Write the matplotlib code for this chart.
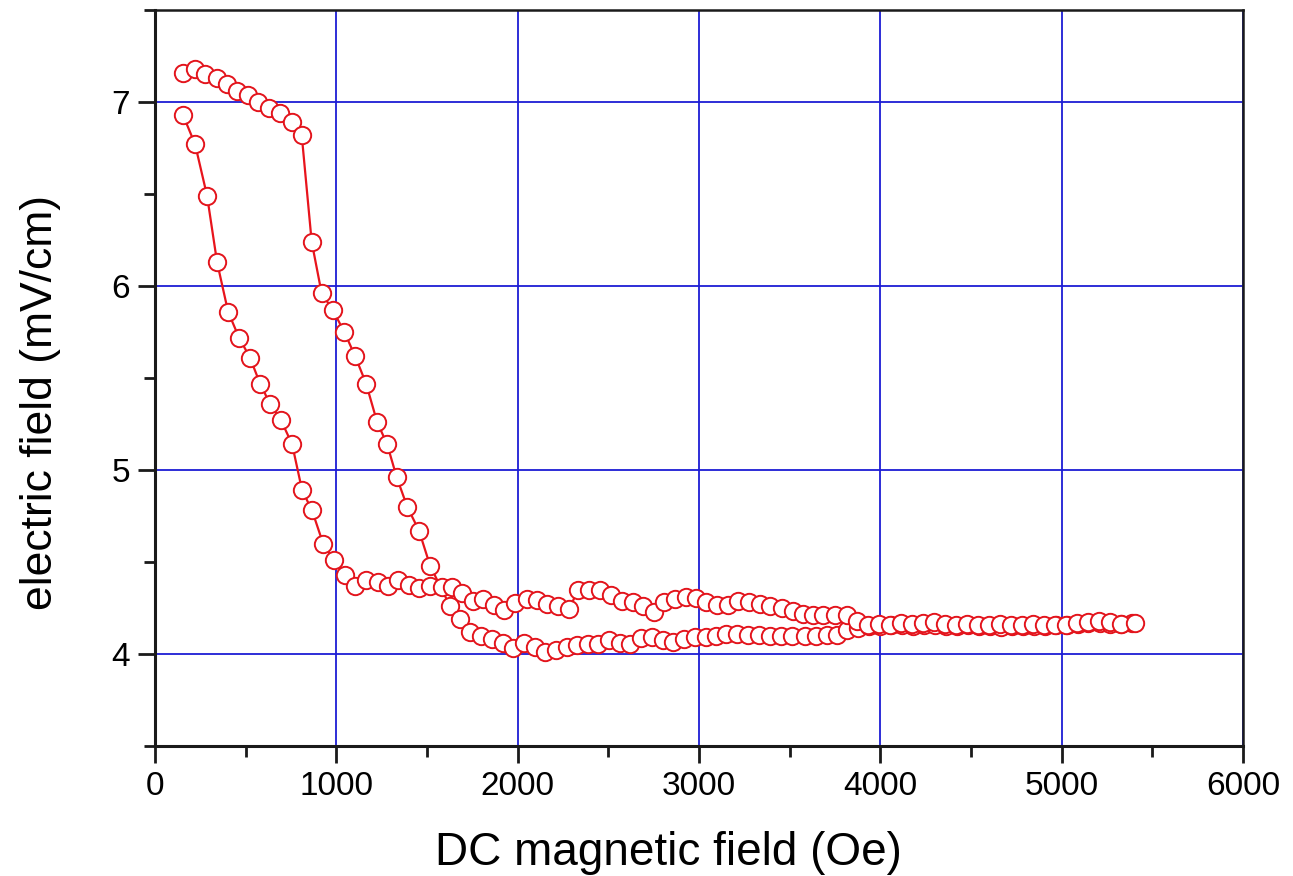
import matplotlib
matplotlib.use("Agg")
import matplotlib.pyplot as plt
from matplotlib import font_manager as fm
from matplotlib.ticker import MultipleLocator

# ---- data ----
# branch starting high (7.16) and ending in the lower band
xa = [156, 221, 276, 340, 399, 454, 515, 570, 631, 689, 754, 809,
      864, 919, 980, 1044, 1103, 1164, 1225, 1280, 1333, 1391, 1456, 1517,
      1627, 1682, 1737, 1798, 1859, 1920, 1975, 2035, 2096, 2151, 2212, 2272,
      2328, 2388, 2443, 2504, 2565, 2620, 2681, 2741, 2802, 2857, 2918, 2978,
      3039, 3094, 3149, 3210, 3271, 3331, 3392, 3453, 3513, 3585, 3646, 3706,
      3762, 3817, 3877, 3938, 3999, 4059, 4120, 4180, 4241, 4301, 4362, 4422,
      4483, 4543, 4604, 4664, 4725, 4785, 4846, 4906, 4967, 5027, 5088, 5148,
      5209, 5269, 5330, 5390]
ya = [7.16, 7.18, 7.15, 7.13, 7.10, 7.06, 7.04, 7.00, 6.97, 6.94, 6.89, 6.82,
      6.24, 5.96, 5.87, 5.75, 5.62, 5.47, 5.26, 5.14, 4.96, 4.80, 4.67, 4.48,
      4.26, 4.19, 4.12, 4.10, 4.08, 4.06, 4.03, 4.06, 4.04, 4.01, 4.02, 4.04,
      4.05, 4.055, 4.055, 4.075, 4.06, 4.055, 4.085, 4.09, 4.075, 4.065, 4.08, 4.09,
      4.09, 4.10, 4.11, 4.11, 4.105, 4.105, 4.10, 4.10, 4.10, 4.10, 4.10, 4.105,
      4.105, 4.13, 4.14, 4.15, 4.15, 4.16, 4.155, 4.15, 4.16, 4.155, 4.15, 4.15,
      4.155, 4.15, 4.15, 4.145, 4.15, 4.15, 4.15, 4.15, 4.155, 4.16, 4.165, 4.17,
      4.17, 4.165, 4.165, 4.17]

# branch starting at 6.93 and ending in the upper band
xb = [154, 221, 287, 342, 403, 463, 524, 579, 634, 695, 756, 811,
      866, 927, 987, 1048, 1103, 1166, 1232, 1287, 1342, 1403, 1458, 1517,
      1581, 1638, 1693, 1754, 1811, 1870, 1925, 1986, 2050, 2105, 2160, 2224,
      2283, 2335, 2395, 2455, 2513, 2574, 2635, 2693, 2752, 2807, 2865, 2926,
      2984, 3041, 3102, 3162, 3217, 3276, 3337, 3392, 3456, 3516, 3572, 3631,
      3686, 3751, 3815, 3870, 3934, 3995, 4055, 4116, 4176, 4237, 4297, 4358,
      4418, 4479, 4539, 4600, 4660, 4721, 4781, 4842, 4902, 4963, 5023, 5084,
      5144, 5205, 5265, 5326, 5405]
yb = [6.93, 6.77, 6.49, 6.13, 5.86, 5.72, 5.61, 5.47, 5.36, 5.27, 5.14, 4.89,
      4.78, 4.60, 4.51, 4.43, 4.37, 4.40, 4.39, 4.37, 4.40, 4.375, 4.36, 4.37,
      4.365, 4.365, 4.33, 4.29, 4.30, 4.265, 4.24, 4.275, 4.30, 4.295, 4.27, 4.26,
      4.245, 4.35, 4.35, 4.35, 4.32, 4.29, 4.28, 4.26, 4.23, 4.28, 4.30, 4.31,
      4.305, 4.285, 4.265, 4.265, 4.29, 4.28, 4.27, 4.26, 4.25, 4.235, 4.22, 4.21,
      4.21, 4.21, 4.21, 4.18, 4.16, 4.165, 4.16, 4.17, 4.165, 4.17, 4.175, 4.165,
      4.16, 4.165, 4.16, 4.16, 4.165, 4.16, 4.16, 4.165, 4.16, 4.16, 4.16, 4.17,
      4.175, 4.18, 4.175, 4.165, 4.17]

xticks = [0, 1000, 2000, 3000, 4000, 5000, 6000]
yticks = [4, 5, 6, 7]
xlabel = "DC magnetic field (Oe)"
ylabel = "electric field (mV/cm)"

# ---- font ----
names = {f.name for f in fm.fontManager.ttflist}
fam = "Liberation Sans Narrow" if "Liberation Sans Narrow" in names else "Liberation Sans"
plt.rcParams["font.family"] = [fam, "DejaVu Sans"]

fig = plt.figure(figsize=(12.93, 8.76), dpi=100)
ax = fig.add_axes([0.1199, 0.1484, 0.9613 - 0.1199, 0.9886 - 0.1484])

for xs, ys in ((xa, ya), (xb, yb)):
    ax.plot(xs, ys, color="#e8141c", lw=1.6, marker="o", ms=12.5,
            mfc="white", mec="#e3141c", mew=1.4, zorder=3)

ax.set_xlim(0, 6000)
ax.set_ylim(3.5, 7.5)
ax.set_xticks(xticks)
ax.set_yticks(yticks)
ax.xaxis.set_minor_locator(MultipleLocator(500))
ax.yaxis.set_minor_locator(MultipleLocator(0.5))
ax.grid(True, which="major", color="#1c1cd4", lw=1.3)
ax.set_axisbelow(True)

for s in ax.spines.values():
    s.set_linewidth(2.2)
    s.set_color("#1a1a1a")
ax.spines["right"].set_linewidth(1.8)
ax.spines["top"].set_linewidth(1.8)

ax.tick_params(axis="both", which="major", direction="out", length=12, width=2,
               labelsize=24, color="#1a1a1a", pad=6)
ax.tick_params(axis="both", which="minor", direction="out", length=8, width=2,
               color="#1a1a1a")
ax.tick_params(axis="y", which="both", right=False)
ax.tick_params(axis="x", which="both", top=False)

ax.set_xlabel(xlabel, fontsize=33, labelpad=20)
ax.set_ylabel(ylabel, fontsize=32, labelpad=36)
ax.xaxis.set_label_coords(0.472, -0.115)
ax.yaxis.get_label().set_position((0, 0.467))

fig.savefig("out.png", dpi=100)
